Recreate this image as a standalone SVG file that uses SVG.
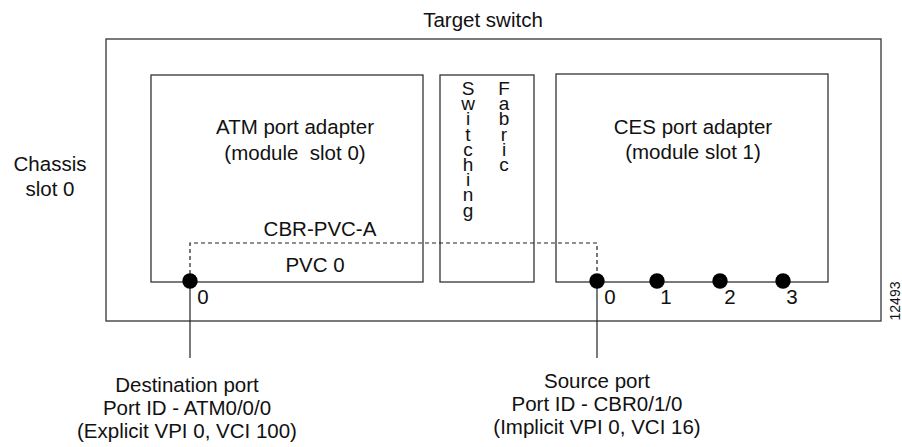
<svg xmlns="http://www.w3.org/2000/svg" width="902" height="447" viewBox="0 0 902 447">
<style>
text{font-family:"Liberation Sans",Arial,sans-serif;font-size:20.5px;fill:#111;text-anchor:middle}
.box{fill:none;stroke:#333;stroke-width:1.3}
.ln{stroke:#222;stroke-width:1.2;fill:none}
.dash{stroke:#222;stroke-width:1.2;fill:none;stroke-dasharray:4 3}
.dot{fill:#000}
.v{font-size:19px;writing-mode:vertical-rl;text-orientation:upright;text-anchor:start;letter-spacing:-5.8px}
</style>
<rect width="902" height="447" fill="#fff"/>
<g id="target-switch">
<rect class="box" x="106" y="39" width="775" height="282"/>
<text x="483" y="27">Target switch</text>
</g>
<g id="chassis-label">
<text x="50" y="171">Chassis</text>
<text x="50" y="196">slot 0</text>
</g>
<g id="atm-adapter">
<rect class="box" x="151" y="75" width="272" height="207"/>
<text x="295" y="134">ATM port adapter</text>
<text x="295" y="160" xml:space="preserve">(module  slot 0)</text>
<text x="315" y="272">PVC 0</text>
</g>
<g id="switching-fabric">
<rect class="box" x="440" y="75" width="94" height="207"/>
<text class="v" x="468" y="78">Switching</text>
<text class="v" x="504" y="78">Fabric</text>
</g>
<g id="ces-adapter">
<rect class="box" x="556" y="74" width="272" height="208"/>
<text x="693" y="134">CES port adapter</text>
<text x="693" y="159">(module slot 1)</text>
</g>
<g id="connectors">
<path class="dash" d="M190 281 V243 H597 V281"/>
<line class="ln" x1="190" y1="281" x2="190" y2="358"/>
<line class="ln" x1="597" y1="281" x2="597" y2="358"/>
<text x="320" y="236">CBR-PVC-A</text>
</g>
<g id="atm-port-0">
<circle class="dot" cx="190" cy="281" r="7.7"/>
<text x="203" y="304">0</text>
</g>
<g id="ces-port-0">
<circle class="dot" cx="597" cy="281" r="7.7"/>
<text x="610" y="304">0</text>
</g>
<g id="ces-port-1">
<circle class="dot" cx="657" cy="281" r="7.7"/>
<text x="666" y="304">1</text>
</g>
<g id="ces-port-2">
<circle class="dot" cx="720" cy="281" r="7.7"/>
<text x="730" y="304">2</text>
</g>
<g id="ces-port-3">
<circle class="dot" cx="783" cy="281" r="7.7"/>
<text x="792" y="304">3</text>
</g>
<g id="destination-port">
<text x="187" y="392">Destination port</text>
<text x="187" y="415">Port ID - ATM0/0/0</text>
<text x="187" y="438">(Explicit VPI 0, VCI 100)</text>
</g>
<g id="source-port">
<text x="597" y="388">Source port</text>
<text x="597" y="411">Port ID - CBR0/1/0</text>
<text x="597" y="434">(Implicit VPI 0, VCI 16)</text>
</g>
<text x="0" y="0" transform="translate(900 301) rotate(-90)" style="font-size:14px">12493</text>
</svg>
